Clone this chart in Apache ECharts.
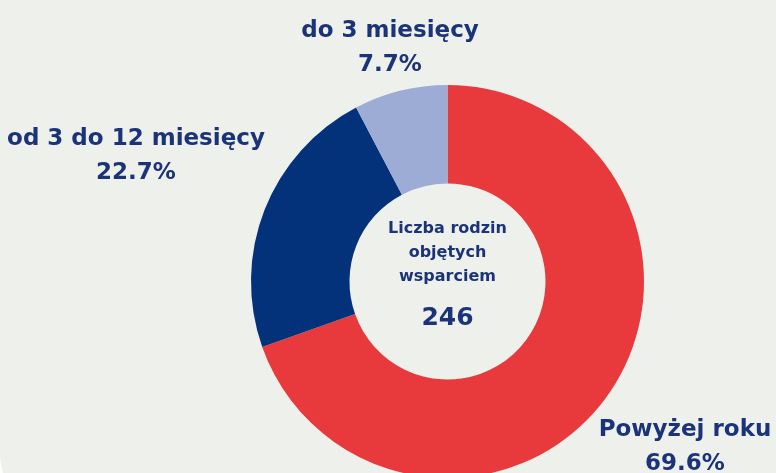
<!DOCTYPE html>
<html>
<head>
<meta charset="utf-8">
<script src="https://cdn.jsdelivr.net/npm/echarts@6/dist/echarts.min.js"></script>
<style>
  html, body { margin: 0; padding: 0; background: #ffffff; }
  #wrap { position: relative; width: 776px; height: 473px; overflow: hidden; }
  #card { position: absolute; left: 0; top: -200px; width: 900px; height: 710px; border-radius: 55px; background: #eef0eb; }
  #main { position: absolute; left: 0; top: 0; width: 776px; height: 473px; }
</style>
</head>
<body>
<div id="wrap">
  <div id="card"></div>
  <div id="main"></div>
</div>
<script>
// dane do wykresu
var categories = ['Powyżej roku', 'od 3 do 12 miesięcy', 'do 3 miesięcy'];
var values = [69.6, 22.7, 7.7];
var colors = ['#e8393d', '#04327a', '#9dacd4'];
var centerTitle = ['Liczba rodzin', 'objętych', 'wsparciem'];
var total = 246;

// gdzie stoja etykiety (srodek tekstu)
var labelSpots = [[685, 447], [136, 156], [390, 48]];

var textColor = '#1b3378';
var font = '"DejaVu Sans", sans-serif';

var myChart = echarts.init(document.getElementById('main'));

var seriesData = [];
for (var i = 0; i < categories.length; i++) {
    seriesData.push({
        name: categories[i],
        value: values[i],
        itemStyle: { color: colors[i] }
    });
}

var option = {
    backgroundColor: 'transparent',
    series: [{
        type: 'pie',
        center: [447.5, 281.5],
        radius: [98, 196.5],
        startAngle: 90,
        clockwise: true,
        silent: true,
        data: seriesData,
        label: {
            show: true,
            position: 'outside',
            overflow: 'none',
            formatter: function (p) {
                return p.name + '\n' + p.value.toFixed(1) + '%';
            },
            color: textColor,
            fontFamily: font,
            fontWeight: 'bold',
            fontSize: 23,
            lineHeight: 34,
            align: 'center'
        },
        labelLine: { show: false },
        labelLayout: function (params) {
            var s = labelSpots[params.dataIndex];
            return { x: s[0], y: s[1], align: 'center', verticalAlign: 'middle' };
        }
    }],
    graphic: [{
        type: 'text',
        x: 447.5,
        y: 217,
        style: {
            text: centerTitle.join('\n'),
            fill: textColor,
            font: 'bold 16px ' + font,
            lineHeight: 24,
            align: 'center',
            verticalAlign: 'top'
        }
    }, {
        type: 'text',
        x: 447.5,
        y: 306,
        style: {
            text: String(total),
            fill: textColor,
            font: 'bold 25px ' + font,
            align: 'center',
            verticalAlign: 'top'
        }
    }]
};

myChart.setOption(option);
</script>
</body>
</html>
